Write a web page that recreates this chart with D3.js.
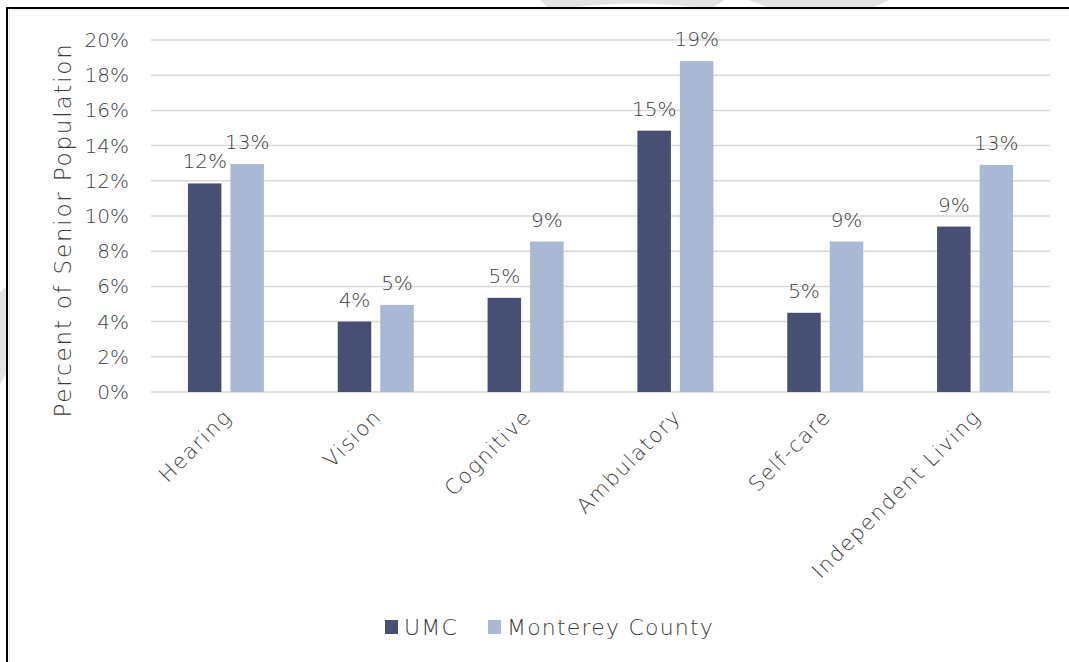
<!DOCTYPE html>
<html>
<head>
<meta charset="utf-8">
<script src="https://cdn.jsdelivr.net/npm/d3@7"></script>
<style>
  html, body { margin: 0; padding: 0; background: #ffffff; }
  svg { display: block; }
  text { font-family: "DejaVu Sans", "Open Sans", sans-serif; font-weight: 200; fill: #3c3c3c; }
</style>
</head>
<body>
<svg id="chart" width="1069" height="662"></svg>
<script>
// Disability categories for the senior population
const categories = ["Hearing", "Vision", "Cognitive", "Ambulatory", "Self-care", "Independent Living"];
const seriesNames = ["UMC", "Monterey County"];
const umcValues = [11.85, 4.0, 5.35, 14.85, 4.5, 9.4];
const montereyValues = [12.95, 4.95, 8.55, 18.8, 8.55, 12.9];
const yTicks = [0, 2, 4, 6, 8, 10, 12, 14, 16, 18, 20];
const seriesColors = ["#474f74", "#a8b8d5"];

const svg = d3.select("#chart");
const W = 1069, H = 662;

// faint background swooshes peeking out around the frame
const deco = svg.append("g").attr("fill", "#e3e3e3");
deco.append("path").attr("d", "M540,0 L725,0 L712,8 L700,8 C660,2 610,2 566,8 L548,8 Z");
deco.append("path").attr("d", "M748,0 L890,0 L872,8 L770,8 Z");
deco.append("path").attr("d", "M0,292 L7,286 L7,372 L0,384 Z");

// chart frame
svg.append("rect").attr("x", 7).attr("y", 8).attr("width", W + 20).attr("height", H + 20)
  .attr("fill", "#ffffff").attr("stroke", "#000000").attr("stroke-width", 2);
svg.append("line").attr("x1", 9.5).attr("x2", 9.5).attr("y1", 9).attr("y2", H)
  .attr("stroke", "#e6e6e6").attr("stroke-width", 1);
svg.append("line").attr("x1", 8).attr("x2", W).attr("y1", 10).attr("y2", 10)
  .attr("stroke", "#e6e6e6").attr("stroke-width", 1);

const plot = { left: 151, right: 1050, top: 40, bottom: 392 };

const x = d3.scaleBand().domain(categories).range([plot.left, plot.right]).padding(0);
const groupWidth = 76;
const xInner = d3.scaleBand().domain(seriesNames).range([0, groupWidth]).paddingInner(0.212).paddingOuter(0);
const y = d3.scaleLinear().domain([0, 20]).range([plot.bottom, plot.top]);

// horizontal gridlines
svg.append("g")
  .selectAll("line")
  .data(yTicks)
  .join("line")
  .attr("x1", plot.left).attr("x2", plot.right)
  .attr("y1", d => y(d)).attr("y2", d => y(d))
  .attr("stroke", "#d9d9d9").attr("stroke-width", 1.5);

// y axis tick labels
const yAxis = d3.axisLeft(y).tickValues(yTicks).tickFormat(d => d + "%").tickSize(0).tickPadding(22);
const yAxisG = svg.append("g").attr("transform", `translate(${plot.left},0)`).call(yAxis);
yAxisG.select(".domain").remove();
yAxisG.selectAll("text").attr("font-size", 20).attr("fill", "#3c3c3c")
  .style("font-family", "'DejaVu Sans', sans-serif").style("font-weight", 200);

// y axis title
svg.append("text")
  .attr("transform", `translate(71,${(plot.top + plot.bottom) / 2 + 14}) rotate(-90)`)
  .attr("text-anchor", "middle")
  .attr("font-size", 23)
  .attr("letter-spacing", 1.8)
  .text("Percent of Senior Population");

// bars
const rows = categories.map((c, i) => ({ category: c, values: [umcValues[i], montereyValues[i]] }));
const groups = svg.append("g").selectAll("g")
  .data(rows)
  .join("g")
  .attr("transform", d => `translate(${x(d.category) + (x.bandwidth() - groupWidth) / 2},0)`);

groups.selectAll("rect")
  .data(d => d.values.map((v, k) => ({ series: seriesNames[k], value: v, k })))
  .join("rect")
  .attr("x", d => xInner(d.series))
  .attr("y", d => y(d.value))
  .attr("width", xInner.bandwidth())
  .attr("height", d => y(0) - y(d.value))
  .attr("fill", d => seriesColors[d.k]);

// value labels
groups.selectAll("text.val")
  .data(d => d.values.map((v, k) => ({ series: seriesNames[k], value: v, k })))
  .join("text")
  .attr("class", "val")
  .attr("x", d => xInner(d.series) + xInner.bandwidth() / 2)
  .attr("y", d => y(d.value) - 15)
  .attr("text-anchor", "middle")
  .attr("font-size", 20)
  .text(d => Math.round(d.value) + "%");

// category labels, rotated
svg.append("g").selectAll("text")
  .data(categories)
  .join("text")
  .attr("transform", d => `translate(${x(d) + x.bandwidth() / 2 + 7},${plot.bottom + 26}) rotate(-45)`)
  .attr("text-anchor", "end")
  .attr("font-size", 21)
  .attr("letter-spacing", 1.5)
  .text(d => d);

// legend
const legendItems = [
  { name: seriesNames[0], color: seriesColors[0], x: 385 },
  { name: seriesNames[1], color: seriesColors[1], x: 488 }
];
const legend = svg.append("g");
legendItems.forEach(item => {
  legend.append("rect").attr("x", item.x).attr("y", 620).attr("width", 13).attr("height", 14).attr("fill", item.color);
  legend.append("text").attr("x", item.x + 19).attr("y", 635).attr("font-size", 22)
    .attr("letter-spacing", 1.2).text(item.name);
});
</script>
</body>
</html>
